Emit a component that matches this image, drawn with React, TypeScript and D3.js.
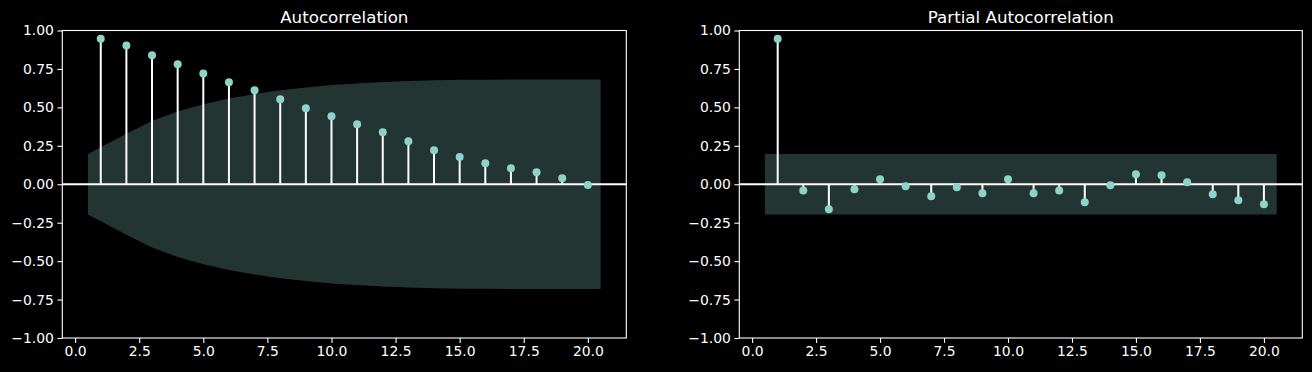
import React, { useEffect, useRef } from 'react';
import * as d3 from 'd3';

const lags = d3.range(1, 21);

const acfValues = [
  0.947, 0.903, 0.839, 0.78, 0.721, 0.663, 0.611, 0.553, 0.494, 0.442,
  0.39, 0.338, 0.279, 0.221, 0.177, 0.136, 0.104, 0.078, 0.039, -0.005,
];

// half-width of the confidence band at each lag
const acfBand = [
  0.196, 0.328, 0.412, 0.473, 0.52, 0.557, 0.587, 0.611, 0.63, 0.645,
  0.656, 0.665, 0.671, 0.676, 0.679, 0.68, 0.681, 0.682, 0.682, 0.682,
];

const pacfValues = [
  0.947, -0.04, -0.163, -0.033, 0.032, -0.013, -0.078, -0.02, -0.059, 0.032,
  -0.059, -0.04, -0.117, -0.007, 0.065, 0.058, 0.013, -0.065, -0.104, -0.13,
];

const pacfBand = lags.map(() => 0.196);

const xTicks = [0, 2.5, 5, 7.5, 10, 12.5, 15, 17.5, 20];
const yTicks = [-1, -0.75, -0.5, -0.25, 0, 0.25, 0.5, 0.75, 1];

const W = 1312;
const H = 372;
const dotColor = '#8dd3c7';
const font = "'DejaVu Sans', sans-serif";

const fmtY = (v: number) => (v < 0 ? '\u2212' : '') + Math.abs(v).toFixed(2);
const fmtX = (v: number) => v.toFixed(1);

export default function App() {
  const ref = useRef<SVGSVGElement>(null);

  useEffect(() => {
    const svg = d3.select(ref.current);
    svg.selectAll('*').remove();

    const drawPanel = (
      left: number,
      right: number,
      title: string,
      values: number[],
      band: number[],
    ) => {
      const top = 30.5;
      const bottom = 338;

      const x = d3.scaleLinear().domain([-0.5, 21.5]).range([left, right]);
      const y = d3.scaleLinear().domain([-1, 1]).range([bottom, top]);

      const g = svg.append('g');

      // confidence band, end points pushed half a lag outwards
      const bandX = lags.map((l, i) => (i === 0 ? l - 0.5 : i === lags.length - 1 ? l + 0.5 : l));
      const area = d3.area<number>()
        .x((_, i) => x(bandX[i]))
        .y0((_, i) => y(-band[i]))
        .y1((_, i) => y(band[i]));

      g.append('path')
        .datum(band)
        .attr('d', area)
        .attr('fill', dotColor)
        .attr('fill-opacity', 0.25);

      // stems
      g.selectAll('line.stem')
        .data(values)
        .enter()
        .append('line')
        .attr('class', 'stem')
        .attr('x1', (_, i) => x(lags[i]))
        .attr('x2', (_, i) => x(lags[i]))
        .attr('y1', y(0))
        .attr('y2', d => y(d))
        .attr('stroke', 'white')
        .attr('stroke-width', 2);

      // zero line
      g.append('line')
        .attr('x1', left)
        .attr('x2', right)
        .attr('y1', y(0))
        .attr('y2', y(0))
        .attr('stroke', 'white')
        .attr('stroke-width', 2);

      g.selectAll('circle')
        .data(values)
        .enter()
        .append('circle')
        .attr('cx', (_, i) => x(lags[i]))
        .attr('cy', d => y(d))
        .attr('r', 4)
        .attr('fill', dotColor);

      // axes
      const yAxis = g.append('g')
        .attr('transform', `translate(${left},0)`)
        .call(d3.axisLeft(y).tickValues(yTicks).tickFormat(d => fmtY(d as number)).tickSize(4.9).tickPadding(3.5));
      const xAxis = g.append('g')
        .attr('transform', `translate(0,${bottom})`)
        .call(d3.axisBottom(x).tickValues(xTicks).tickFormat(d => fmtX(d as number)).tickSize(4.9).tickPadding(3.5));

      [yAxis, xAxis].forEach(a => {
        a.select('.domain').remove();
        a.selectAll('line').attr('stroke', 'white').attr('stroke-width', 1.1);
        a.selectAll('text')
          .attr('fill', 'white')
          .style('font-family', font)
          .style('font-size', '13.9px');
      });

      g.append('rect')
        .attr('x', left)
        .attr('y', top)
        .attr('width', right - left)
        .attr('height', bottom - top)
        .attr('fill', 'none')
        .attr('stroke', 'white')
        .attr('stroke-width', 1.1);

      g.append('text')
        .attr('x', (left + right) / 2)
        .attr('y', top - 8)
        .attr('text-anchor', 'middle')
        .attr('fill', 'white')
        .style('font-family', font)
        .style('font-size', '16.7px')
        .text(title);
    };

    drawPanel(62.3, 626.3, 'Autocorrelation', acfValues, acfBand);
    drawPanel(739.3, 1302.3, 'Partial Autocorrelation', pacfValues, pacfBand);
  }, []);

  return (
    <svg
      ref={ref}
      width={W}
      height={H}
      style={{ position: 'absolute', left: 0, top: 0, background: 'black', display: 'block' }}
    />
  );
}
